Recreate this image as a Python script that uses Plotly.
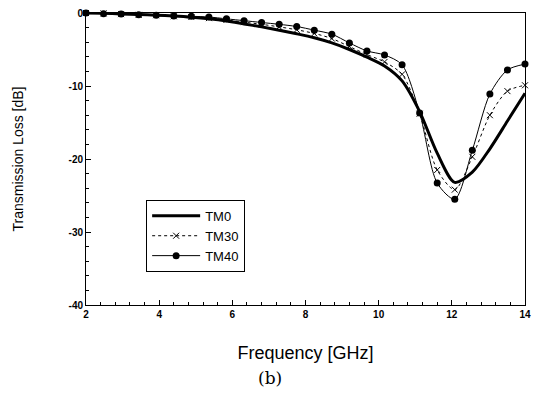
import plotly.graph_objects as go

freq = [2.00, 2.48, 2.96, 3.44, 3.92, 4.40, 4.88, 5.36, 5.84, 6.32, 6.80, 7.28, 7.76,
        8.24, 8.72, 9.20, 9.68, 10.16, 10.64, 11.12, 11.60, 12.08, 12.56, 13.04, 13.52, 14.00]

tm0 = [0.0, -0.05, -0.12, -0.2, -0.3, -0.42, -0.58, -0.8, -1.1, -1.5, -1.9, -2.35, -2.85,
       -3.4, -4.1, -5.0, -6.05, -7.25, -9.3, -13.5, -19.2, -23.2, -21.8, -18.6, -14.8, -11.0]

tm30 = [0.0, -0.05, -0.15, -0.25, -0.3, -0.45, -0.55, -0.7, -0.95, -1.25, -1.55, -1.9, -2.3,
        -2.8, -3.5, -4.6, -5.7, -6.7, -8.4, -13.8, -21.5, -24.2, -19.7, -14.0, -10.7, -9.9]

tm40 = [0.0, -0.1, -0.15, -0.25, -0.3, -0.4, -0.45, -0.55, -0.8, -1.05, -1.3, -1.55, -1.85,
        -2.35, -2.9, -4.1, -5.2, -5.75, -7.1, -13.7, -23.3, -25.5, -18.8, -11.1, -7.8, -7.0]

x_ticks = [2, 4, 6, 8, 10, 12, 14]
y_ticks = [0, -10, -20, -30, -40]
y_tick_text = ["0", "-10", "-20", "-30", "-40"]

SANS = "Liberation Sans, Arial, sans-serif"

fig = go.Figure()
fig.add_trace(go.Scatter(x=freq, y=tm0, name="TM0", mode="lines",
                         line=dict(color="black", width=3, shape="spline", smoothing=0.8),
                         cliponaxis=False))
fig.add_trace(go.Scatter(x=freq, y=tm30, name="TM30", mode="lines+markers",
                         line=dict(color="black", width=1, dash="dot", shape="spline", smoothing=0.8),
                         marker=dict(symbol="x-thin", size=6, color="black",
                                     line=dict(color="black", width=1)),
                         cliponaxis=False))
fig.add_trace(go.Scatter(x=freq, y=tm40, name="TM40", mode="lines+markers",
                         line=dict(color="black", width=1, shape="spline", smoothing=0.8),
                         marker=dict(symbol="circle", size=7, color="black"),
                         cliponaxis=False))

fig.update_layout(
    width=535, height=400,
    margin=dict(l=78, r=18, t=5, b=103),
    paper_bgcolor="white", plot_bgcolor="white",
    showlegend=True,
    legend=dict(x=0.137, y=0.36, xanchor="left", yanchor="top",
                bordercolor="black", borderwidth=1, bgcolor="white",
                font=dict(family=SANS, size=13, color="black"),
                tracegroupgap=0, itemwidth=48),
    xaxis=dict(range=[2, 14], tickvals=x_ticks, ticks="inside", ticklen=5,
               tickcolor="black", showline=True, linecolor="black", linewidth=1,
               mirror=True, showgrid=False, zeroline=False, automargin=False,
               ticklabeloverflow="allow",
               tickfont=dict(family=SANS, size=10, color="black", weight="bold"),
               minor=dict(dtick=0.4, ticks="inside", ticklen=3, tickcolor="black"),
               title=dict(text="Frequency [GHz]", standoff=27,
                          font=dict(family=SANS, size=18, color="black"))),
    yaxis=dict(range=[-40, 0], tickvals=y_ticks, ticktext=y_tick_text, ticks="inside",
               ticklen=5, tickcolor="black", showline=True, linecolor="black", linewidth=1,
               mirror=True, showgrid=False, zeroline=False, automargin=False,
               ticklabeloverflow="allow",
               tickfont=dict(family=SANS, size=10, color="black", weight="bold"),
               minor=dict(dtick=2, ticks="inside", ticklen=3, tickcolor="black"),
               title=dict(text="Transmission Loss [dB]", standoff=41,
                          font=dict(family=SANS, size=14, color="black"))),
    annotations=[dict(text="(b)", x=0.419, y=-0.25, xref="paper", yref="paper",
                      showarrow=False, xanchor="center", yanchor="middle",
                      font=dict(family="DejaVu Serif, serif", size=17, color="black"))],
)

fig.write_html("out.html")
